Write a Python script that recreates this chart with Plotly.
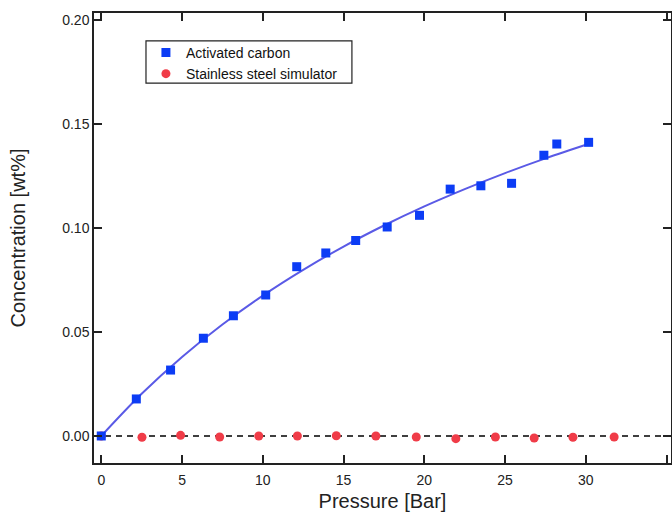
import plotly.graph_objects as go

# Activated carbon measurements
ac_pressure = [0.0, 2.17, 4.29, 6.32, 8.18, 10.18, 12.1, 13.9, 15.75, 17.7, 19.7, 21.6, 23.5, 25.4, 27.4, 28.2, 30.17]
ac_conc = [0.0, 0.0178, 0.0317, 0.047, 0.0578, 0.0678, 0.0814, 0.088, 0.094, 0.1005, 0.1061, 0.1187, 0.1203, 0.1215, 0.135, 0.1404, 0.1412]

# Fit curve for activated carbon
fit_pressure = [0.0, 2.5, 5.0, 7.5, 10.0, 12.5, 15.0, 17.5, 20.0, 22.5, 25.0, 27.5, 30.2]
fit_conc = [0.0, 0.0203, 0.0380, 0.0536, 0.0675, 0.0799, 0.0911, 0.1012, 0.1104, 0.1187, 0.1264, 0.1335, 0.1405]

# Stainless steel simulator measurements
ss_pressure = [0.0, 2.52, 4.91, 7.33, 9.75, 12.14, 14.55, 17.0, 19.5, 21.95, 24.4, 26.8, 29.2, 31.75]
ss_conc = [0.0, -0.0006, 0.0003, -0.0005, 0.0, 0.0, 0.0001, 0.0, -0.0005, -0.0013, -0.0005, -0.001, -0.0006, -0.0005]

x_ticks = [0, 5, 10, 15, 20, 25, 30, 35]
y_ticks = [0.00, 0.05, 0.10, 0.15, 0.20]

FONT = "Liberation Sans, Arial, sans-serif"

fig = go.Figure()

fig.add_hline(y=0, line=dict(color="black", width=1.5, dash="6px,5px"), layer="below")

# legend frame
fig.add_shape(type="rect", xref="paper", yref="paper", x0=0.0901, x1=0.447, y0=0.844, y1=0.938,
              line=dict(color="#222", width=1.2), fillcolor="white", layer="below")

fig.add_trace(go.Scatter(
    x=fit_pressure, y=fit_conc, mode="lines", line=dict(color="rgb(90,90,230)", width=2, shape="spline"),
    showlegend=False, hoverinfo="skip"))

fig.add_trace(go.Scatter(
    x=ss_pressure, y=ss_conc, mode="markers", name="Stainless steel simulator",
    marker=dict(symbol="circle", size=9, color="rgb(240,60,72)", line=dict(width=0))))

fig.add_trace(go.Scatter(
    x=ac_pressure, y=ac_conc, mode="markers", name="Activated carbon",
    marker=dict(symbol="square", size=9, color="rgb(12,60,245)", line=dict(width=0))))

axis_common = dict(
    showline=True, linecolor="#222", linewidth=1.5, mirror="ticks",
    ticks="inside", ticklen=8, tickwidth=1.5, tickcolor="#222",
    showgrid=False, zeroline=False, automargin=False,
    tickfont=dict(family=FONT, size=14, color="#222"),
)

fig.update_xaxes(
    range=[-0.45, 35.27], tickvals=x_ticks, ticktext=[str(v) for v in x_ticks],
    ticklabelstandoff=3,
    title=dict(text="Pressure [Bar]", font=dict(family=FONT, size=20, color="#222"), standoff=19),
    **axis_common)
fig.update_yaxes(
    range=[-0.013, 0.2034], tickvals=y_ticks, ticktext=[f"{v:.2f}" for v in y_ticks],
    title=dict(text="Concentration [wt%]", font=dict(family=FONT, size=20, color="#222"), standoff=31),
    **axis_common)

fig.update_layout(
    width=672, height=512,
    margin=dict(l=94, r=1, t=13, b=49),
    paper_bgcolor="white", plot_bgcolor="white",
    legend=dict(
        x=0.09, y=0.947, xanchor="left", yanchor="top",
        borderwidth=0, bgcolor="rgba(0,0,0,0)",
        font=dict(family=FONT, size=14, color="#111"),
        traceorder="reversed", tracegroupgap=0,
    ),
)

fig.write_html("out.html", config={"displayModeBar": False},
               post_script="document.body.style.margin='0';")
